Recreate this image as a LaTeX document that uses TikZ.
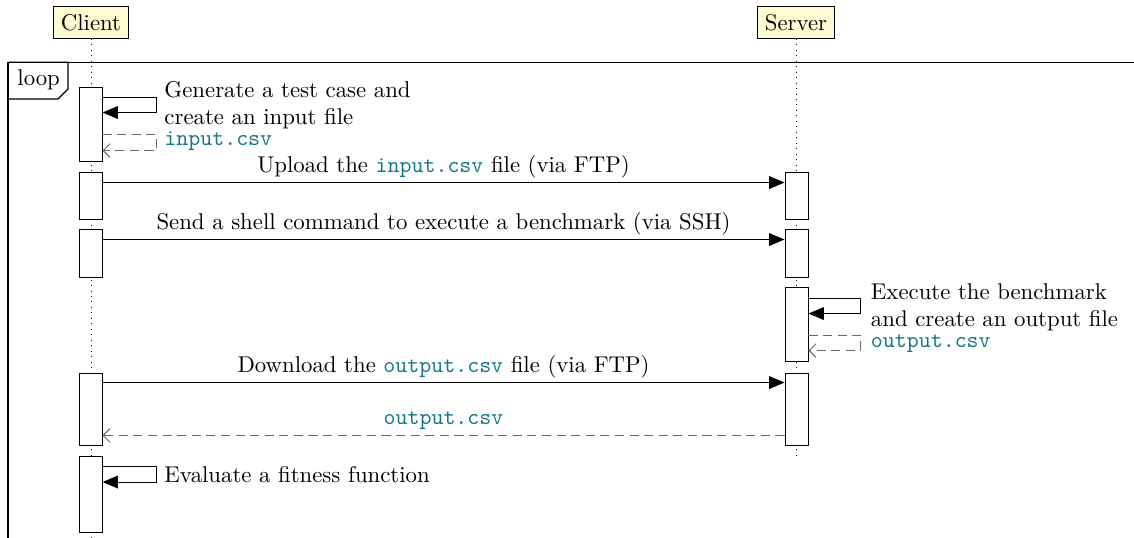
\documentclass[tikz,border=0pt]{standalone}
\usetikzlibrary{arrows.meta,calc}
\definecolor{lifeyellow}{RGB}{255,251,208}
\definecolor{filetext}{RGB}{22,118,138}
\definecolor{retgray}{RGB}{105,105,105}
\newcommand\fname[1]{{\color{filetext}\ttfamily #1}}
\tikzset{
  actor/.style={draw, fill=lifeyellow, inner sep=3.33pt, line width=0.4pt},
  act/.style={draw, fill=white, minimum width=10.1pt, minimum height={#1*0.4386pt}, inner sep=0pt, line width=0.4pt},
  life/.style={dotted, line width=0.4pt},
  call/.style={-{Triangle[length=6.8pt,width=5.6pt]}, line width=0.45pt},
  reply/.style={-{Straight Barb[length=3pt,width=6pt]}, retgray, dash pattern=on 4pt off 2.4pt, line width=0.45pt},
  txt/.style={inner sep=0pt, anchor=base west},
  mtxt/.style={inner sep=0pt, anchor=west, align=left},
  lbl/.style={inner sep=0pt, anchor=base},
}
\begin{document}
\begin{tikzpicture}[x=0.4386pt, y=-0.4386pt]
\useasboundingbox (0,0) rectangle (1134,538);
% participants and their lifelines
\node[actor] (client) at (91,22.5) {Client};
\node[actor] (server) at (796,22.5) {Server};
\coordinate (clientend) at (91,538);
\coordinate (serverend) at (796,458);
\draw[life] (client) -- (clientend);
\draw[life] (server) -- (serverend);
% loop frame
\draw[line width=0.6pt] (8,538) -- (8,62.3) -- (1134,62.3);
\draw[line width=0.5pt] (8,62.3) -- (68,62.3) -- (68,89) -- (58,99) -- (8,99);
\node[txt] (looplabel) at (17,86) {loop};
% activation bars
\node[act=74] (ca1) at (90.5,124) {};
\node[act=47] (ca2) at (90.5,195.5) {};
\node[act=48] (ca3) at (90.5,253) {};
\node[act=72] (ca4) at (90.5,409) {};
\node[act=76] (ca5) at (90.5,494) {};
\node[act=47] (sa1) at (796.5,195.5) {};
\node[act=48] (sa2) at (796.5,253) {};
\node[act=74] (sa3) at (796.5,324) {};
\node[act=72] (sa4) at (796.5,409) {};
% client generates the test case
\draw[call] ($(ca1.north east)+(0,11)$) -- ++(54,0) -- ++(0,15) -- ($(ca1.north east)+(0,26)$);
\node[mtxt] (gen) at (164,105) {Generate a test case and\\create an input file};
\draw[reply] ($(ca1.north east)+(0,48)$) -- ++(54,0) -- ++(0,16) -- ($(ca1.north east)+(0,64)$);
\node[txt] (genret) at (164,146) {\fname{input.csv}};
% upload
\draw[call] ($(ca2.north east)+(0,11)$) -- ($(sa1.north west)+(0,11)$);
\node[lbl] (upload) at (443.5,172.5) {Upload the \fname{input.csv} file (via FTP)};
% run command
\draw[call] ($(ca3.north east)+(0,11)$) -- ($(sa2.north west)+(0,11)$);
\node[lbl] (send) at (443.5,229.5) {Send a shell command to execute a benchmark (via SSH)};
% server runs the benchmark
\draw[call] ($(sa3.north east)+(0,12)$) -- ++(52,0) -- ++(0,15) -- ($(sa3.north east)+(0,27)$);
\node[mtxt] (exec) at (870.5,307) {Execute the benchmark\\and create an output file};
\draw[reply] ($(sa3.north east)+(0,48.5)$) -- ++(52,0) -- ++(0,15.5) -- ($(sa3.north east)+(0,64)$);
\node[txt] (execret) at (870.5,347.3) {\fname{output.csv}};
% download
\draw[call] ($(ca4.north east)+(0,10)$) -- ($(sa4.north west)+(0,10)$);
\node[lbl] (download) at (443.5,372.5) {Download the \fname{output.csv} file (via FTP)};
\draw[reply] ($(sa4.south west)+(0,-10)$) -- ($(ca4.south east)+(0,-10)$);
\node[lbl] (dlret) at (443.5,425) {\fname{output.csv}};
% fitness evaluation
\draw[call] ($(ca5.north east)+(0,11)$) -- ++(54,0) -- ++(0,15.5) -- ($(ca5.north east)+(0,26.5)$);
\node[txt] (fit) at (164,482.5) {Evaluate a fitness function};
\end{tikzpicture}
\end{document}
